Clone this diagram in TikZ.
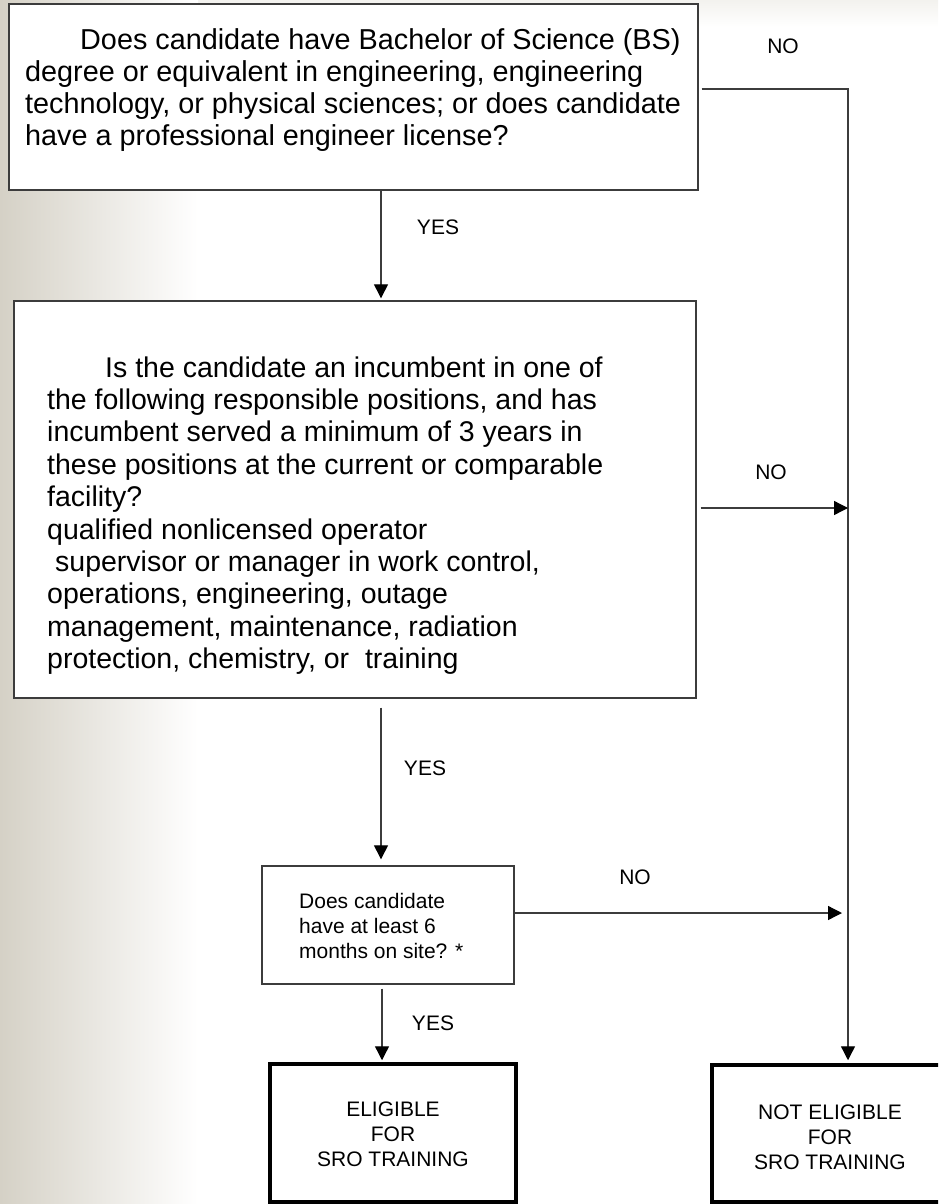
\documentclass[tikz,border=0pt]{standalone}
\usepackage{fontspec}
\setmainfont{Liberation Sans}
\usetikzlibrary{arrows.meta}
\definecolor{bgl}{HTML}{D5D1C6}
\definecolor{ln}{HTML}{3C3C3C}
\definecolor{topband}{HTML}{F3F2EE}
\begin{document}
\begin{tikzpicture}[x=1pt,y=-1pt,
  box/.style={draw=ln, fill=white, line width=1.4pt, inner sep=0pt, rectangle},
  endbox/.style={draw=black, fill=white, line width=3.5pt, inner sep=0pt, rectangle},
  conn/.style={draw=ln, line width=1.3pt},
  arr/.style={conn, -{Triangle[length=14pt,width=14pt,color=black]}},
  bigA/.style={font=\fontsize{28.8}{32}\selectfont, inner sep=0pt, anchor=base west},
  big/.style={font=\fontsize{28.5}{32}\selectfont, inner sep=0pt, anchor=base west},
  small/.style={font=\fontsize{21}{25}\selectfont, inner sep=0pt, anchor=base west},
  lbl/.style={font=\fontsize{21}{25}\selectfont, inner sep=0pt},
  endtxt/.style={font=\fontsize{21}{25}\selectfont, inner sep=0pt, align=center},
]
\useasboundingbox (0,0) rectangle (938,1204);
\clip (0,0) rectangle (938,1204);
\fill[white] (0,0) rectangle (938,1204);
\shade[top color=topband, bottom color=white] (0,0) rectangle (938,27);
\shade[left color=bgl, right color=white] (0,0) rectangle (198,1204);

% boxes
\node[box, minimum width=689pt, minimum height=186pt] (b1) at (353.5,97) {};
\node[box, minimum width=682pt, minimum height=397pt] (b2) at (355,499.5) {};
\node[box, minimum width=252pt, minimum height=118pt] (b3) at (388,925) {};
\node[endbox, minimum width=246pt, minimum height=138pt] (el) at (393,1133) {};
\node[endbox, minimum width=238pt, minimum height=137pt] (ne) at (831,1133.5) {};

% box 1 text
\node[bigA] (q1a) at (80,50) {Does candidate have Bachelor of Science (BS)};
\node[bigA] (q1b) at (25,81.7) {degree or equivalent in engineering, engineering};
\node[bigA] (q1c) at (25,113.4) {technology, or physical sciences; or does candidate};
\node[bigA] (q1d) at (25,145.1) {have a professional engineer license?};

% box 2 text
\node[big] (q2a) at (105,377) {Is the candidate an incumbent in one of};
\node[big] (q2b) at (47,409.4) {the following responsible positions, and has};
\node[big] (q2c) at (47,441.8) {incumbent served a minimum of 3 years in};
\node[big] (q2d) at (47,474.2) {these positions at the current or comparable};
\node[big] (q2e) at (47,506.6) {facility?};
\node[big] (q2f) at (47,539) {qualified nonlicensed operator};
\node[big] (q2g) at (55,571.4) {supervisor or manager in work control,};
\node[big] (q2h) at (47,603.8) {operations, engineering, outage};
\node[big] (q2i) at (47,636.2) {management, maintenance, radiation};
\node[big] (q2j) at (47,668.6) {protection, chemistry, or\ \ training};

% box 3 text
\node[small] (q3a) at (299,908) {Does candidate};
\node[small] (q3b) at (299,933) {have at least 6};
\node[small] (q3c) at (299,958) {months on site? *};

% end boxes text
\node[endtxt] (elt) at (393,1134) {ELIGIBLE\\FOR\\SRO TRAINING};
\node[endtxt] (net) at (830,1137) {NOT ELIGIBLE\\FOR\\SRO TRAINING};

% connectors
\coordinate (rl) at (848,89);
\coordinate (m2) at (848,508);
\coordinate (m3) at (848,913);
\coordinate (a1) at (381,0);
\coordinate (a2) at (381,0);
\coordinate (a3) at (382,0);

\draw[arr] ([xshift=3pt]b1.east |- rl) -- (rl) -- ([yshift=3pt]rl |- ne.north);
\draw[arr] (a1 |- b1.south) -- ([yshift=2pt]a1 |- b2.north);
\draw[arr] ([xshift=4pt]b2.east |- m2) -- (m2);
\draw[arr] ([yshift=-9pt]a2 |- b2.south) -- ([yshift=6pt]a2 |- b3.north);
\draw[arr] (b3.east |- m3) -- ([xshift=-6pt]m3);
\draw[arr] ([yshift=-4pt]a3 |- b3.south) -- ([yshift=2pt]a3 |- el.north);

% labels
\node[lbl] (no1) at (783,46) {NO};
\node[lbl] (no2) at (771,472) {NO};
\node[lbl] (no3) at (635,877) {NO};
\node[lbl] (yes1) at (438,227) {YES};
\node[lbl] (yes2) at (425,768) {YES};
\node[lbl] (yes3) at (433,1023) {YES};
\end{tikzpicture}
\end{document}
